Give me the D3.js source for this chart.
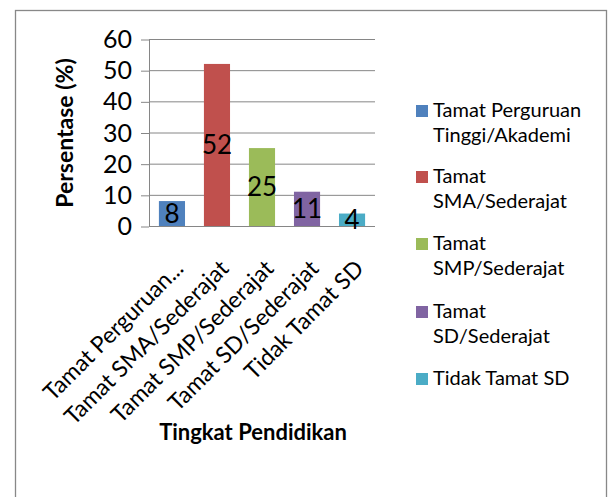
<!DOCTYPE html>
<meta charset="utf-8">
<script src="https://d3js.org/d3.v7.min.js"></script>
<style>
  body { margin: 0; background: #fff; }
  text { font-family: Lato, "Open Sans", sans-serif; }
</style>
<div id="chart"></div>
<script>
// data
var categories = ["Tamat Perguruan Tinggi/Akademi", "Tamat SMA/Sederajat", "Tamat SMP/Sederajat", "Tamat SD/Sederajat", "Tidak Tamat SD"];
var axisLabels = ["Tamat Perguruan...", "Tamat SMA/Sederajat", "Tamat SMP/Sederajat", "Tamat SD/Sederajat", "Tidak Tamat SD"];
var values = [8, 52, 25, 11, 4];
var colors = ["#4F81BD", "#C0504D", "#9BBB59", "#8064A2", "#4BACC6"];
var legendLines = [["Tamat Perguruan", "Tinggi/Akademi"], ["Tamat", "SMA/Sederajat"], ["Tamat", "SMP/Sederajat"], ["Tamat", "SD/Sederajat"], ["Tidak Tamat SD"]];
var yTicks = [0, 10, 20, 30, 40, 50, 60];

var W = 610, H = 497;
var svg = d3.select("#chart").append("svg")
  .attr("width", W)
  .attr("height", H);

// chart border
svg.append("rect")
  .attr("x", 15.5).attr("y", 10.5)
  .attr("width", 591).attr("height", 500)
  .attr("fill", "#fff")
  .attr("stroke", "#888").attr("stroke-width", 1.3);

var plot = { left: 149, right: 375, top: 39, bottom: 226 };

var x = d3.scaleBand()
  .domain(categories)
  .range([plot.left, plot.right])
  .paddingInner(0.42)
  .paddingOuter(0.22);

var y = d3.scaleLinear()
  .domain([0, 60])
  .range([plot.bottom, plot.top]);

// gridlines
svg.append("g").selectAll("line")
  .data(yTicks)
  .join("line")
  .attr("x1", plot.left).attr("x2", plot.right)
  .attr("y1", d => y(d) + 0.5).attr("y2", d => y(d) + 0.5)
  .attr("stroke", "#868686");

// y axis ticks + labels
var yAxis = svg.append("g")
  .attr("transform", "translate(" + plot.left + ",0.5)")
  .call(d3.axisLeft(y).tickValues(yTicks).tickSize(8).tickPadding(9));
yAxis.select(".domain").remove();
yAxis.selectAll(".tick line").attr("stroke", "#868686");
yAxis.selectAll(".tick text")
  .attr("font-size", 25)
  .attr("fill", "#000")
  .style("font-family", "Lato, sans-serif");

// vertical axis line
svg.append("line")
  .attr("x1", plot.left + 0.5).attr("x2", plot.left + 0.5)
  .attr("y1", plot.top).attr("y2", plot.bottom)
  .attr("stroke", "#868686");

// bars
svg.append("g").selectAll("rect")
  .data(values)
  .join("rect")
  .attr("x", (d, i) => x(categories[i]))
  .attr("y", d => y(d))
  .attr("width", x.bandwidth())
  .attr("height", d => y(0) - y(d))
  .attr("fill", (d, i) => colors[i]);

// value labels
svg.append("g").selectAll("text")
  .data(values)
  .join("text")
  .attr("x", (d, i) => x(categories[i]) + x.bandwidth() / 2)
  .attr("y", d => (y(d) + y(0)) / 2)
  .attr("dy", "0.36em")
  .attr("text-anchor", "middle")
  .attr("font-size", 26)
  .attr("fill", "#000")
  .text(d => d);

// rotated category labels
svg.append("g").selectAll("text")
  .data(axisLabels)
  .join("text")
  .attr("transform", (d, i) => "translate(" + (x(categories[i]) + x.bandwidth() / 2 + 13) + ",270) rotate(-45)")
  .attr("text-anchor", "end")
  .attr("font-size", 23)
  .attr("fill", "#000")
  .text(d => d);

// axis titles
svg.append("text")
  .attr("transform", "translate(73,133) rotate(-90)")
  .attr("text-anchor", "middle")
  .attr("font-size", 23)
  .attr("font-weight", "bold")
  .text("Persentase (%)");

svg.append("text")
  .attr("x", 253).attr("y", 440)
  .attr("text-anchor", "middle")
  .attr("font-size", 22)
  .attr("font-weight", "bold")
  .text("Tingkat Pendidikan");

// legend
var legendY = [117, 183, 250, 318, 385];
var leg = svg.append("g").selectAll("g")
  .data(legendLines)
  .join("g")
  .attr("transform", (d, i) => "translate(416," + legendY[i] + ")");
leg.append("rect")
  .attr("x", 0).attr("y", -12)
  .attr("width", 12).attr("height", 12)
  .attr("fill", (d, i) => colors[i]);
leg.append("text")
  .attr("font-size", 20)
  .attr("fill", "#000")
  .selectAll("tspan")
  .data(d => d)
  .join("tspan")
  .attr("x", 17)
  .attr("y", (d, j) => j * 25)
  .text(d => d);
</script>
